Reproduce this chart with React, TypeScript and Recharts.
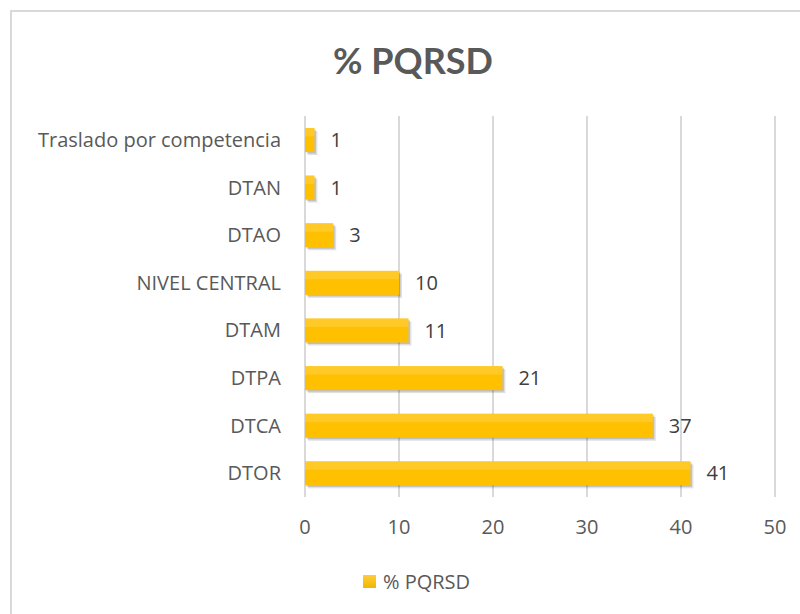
import React from "react";
import { BarChart, Bar, XAxis, YAxis, CartesianGrid, LabelList } from "recharts";

const categories = [
  "Traslado por competencia",
  "DTAN",
  "DTAO",
  "NIVEL CENTRAL",
  "DTAM",
  "DTPA",
  "DTCA",
  "DTOR",
];
const values = [1, 1, 3, 10, 11, 21, 37, 41];
const xTicks = [0, 10, 20, 30, 40, 50];
const seriesName = "% PQRSD";

const data = categories.map((c, i) => ({ name: c, value: values[i] }));

const FONT = "'Open Sans', sans-serif";
const TITLE_FONT = "Lato, 'Open Sans', sans-serif";

const ShadowBar = (props: any) => {
  const x = Number(props.x);
  const y = Number(props.y);
  const width = Number(props.width);
  const height = Number(props.height);
  return (
    <g>
      <rect x={x + 3} y={y + 3} width={Math.max(width, 0)} height={Math.max(height, 0)} fill="#000" fillOpacity={0.12} />
      <rect x={x + 1.5} y={y + 1.5} width={Math.max(width, 0)} height={Math.max(height, 0)} fill="#000" fillOpacity={0.15} />
      <rect x={x} y={y} width={Math.max(width, 0)} height={Math.max(height, 0)} fill="#FFC000" />
      <rect x={x} y={y} width={Math.max(width, 0)} height={Math.max(height, 0) * 0.35} fill="#FFD34D" fillOpacity={0.5} />
    </g>
  );
};

export default function App() {
  return (
    <div style={{ position: "absolute", left: 0, top: 0, width: 800, height: 614, background: "#fff", overflow: "hidden" }}>
      <div style={{ position: "absolute", left: 10, top: 10, width: 800, height: 620, border: "2px solid #d9d9d9", boxSizing: "border-box" }} />
      <div style={{ position: "absolute", left: 10, width: 806, top: 38, textAlign: "center", fontFamily: TITLE_FONT, fontWeight: 700, fontSize: 36, color: "#595959" }}>
        {seriesName}
      </div>
      <div style={{ position: "absolute", left: 0, top: 0 }}>
        <BarChart
          layout="vertical"
          width={800}
          height={614}
          data={data}
          margin={{ top: 116, right: 25, bottom: 77, left: 10 }}
          barSize={24}
        >
          <CartesianGrid horizontal={false} stroke="#d9d9d9" strokeWidth={2} />
          <XAxis
            type="number"
            domain={[0, 50]}
            ticks={xTicks}
            axisLine={false}
            tickLine={false}
            tickMargin={17}
            height={40}
            tick={{ fill: "#595959", fontSize: 20, fontFamily: FONT }}
          />
          <YAxis
            type="category"
            dataKey="name"
            width={295}
            axisLine={false}
            tickLine={false}
            tickMargin={18}
            interval={0}
            tick={{ fill: "#595959", fontSize: 20, fontFamily: FONT }}
          />
          <Bar dataKey="value" name={seriesName} fill="#FFC000" shape={ShadowBar} isAnimationActive={false}>
            <LabelList dataKey="value" position="right" offset={16} style={{ fill: "#404040", fontSize: 20, fontFamily: FONT }} />
          </Bar>
        </BarChart>
      </div>
      <div style={{ position: "absolute", left: 0, width: 833, top: 568, display: "flex", justifyContent: "center", alignItems: "center", fontFamily: FONT, fontSize: 20, color: "#595959" }}>
        <span style={{ display: "inline-block", width: 13, height: 13, background: "linear-gradient(#FFCD3C, #F2B600)", marginRight: 7 }} />
        <span>{seriesName}</span>
      </div>
    </div>
  );
}
